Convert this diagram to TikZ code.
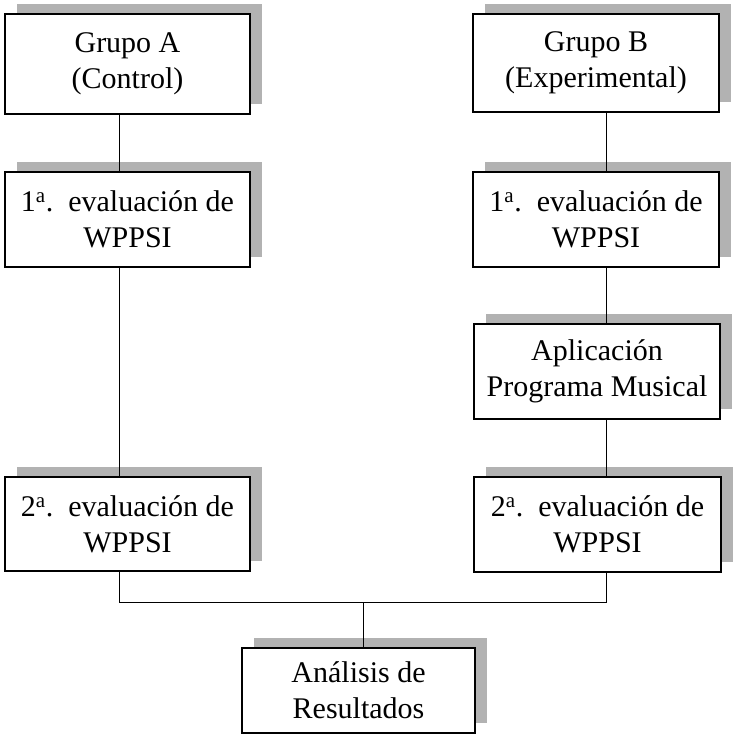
\documentclass[tikz,border=0pt]{standalone}
\usepackage{fontspec}
\setmainfont{Liberation Serif}
\usetikzlibrary{shadows}
\begin{document}
\begin{tikzpicture}[x=1pt,y=-1pt,
  box/.style={draw=black, line width=1.1pt, fill=white, rectangle, inner sep=0pt,
    align=center, font=\fontsize{30}{36}\selectfont,
    drop shadow={shadow xshift=12pt, shadow yshift=10pt, fill=gray!60, opacity=1}},
  conn/.style={draw=black, line width=1pt}]
\useasboundingbox (0,0) rectangle (736,743);
\node[box, minimum width=245pt, minimum height=100pt] (A1) at (127.5,64) {Grupo A\\(Control)};
\node[box, minimum width=245pt, minimum height=95pt] (A2) at (127.5,219.5) {1\textsuperscript{a}.\ \ evaluación de\\WPPSI};
\node[box, minimum width=245pt, minimum height=94pt] (A3) at (127.5,524) {2\textsuperscript{a}.\ \ evaluación de\\WPPSI};
\node[box, minimum width=246pt, minimum height=98pt] (B1) at (596,63) {Grupo B\\(Experimental)};
\node[box, minimum width=246pt, minimum height=95pt] (B2) at (596,219.5) {1\textsuperscript{a}.\ \ evaluación de\\WPPSI};
\node[box, minimum width=246pt, minimum height=95pt] (B3) at (597,371.5) {Aplicación\\Programa Musical};
\node[box, minimum width=247pt, minimum height=95pt] (B4) at (597.5,524.5) {2\textsuperscript{a}.\ \ evaluación de\\WPPSI};
\node[box, minimum width=233pt, minimum height=85pt] (R) at (358.5,690.5) {Análisis de\\Resultados};
\coordinate (xa) at (119,0);
\coordinate (xb) at (606,0);
\coordinate (xr) at (363,0);
\coordinate (ja) at (119,602);
\coordinate (jb) at (606,602);
\coordinate (jr) at (363,602);
\draw[conn] (A1.south -| xa) -- (A2.north -| xa);
\draw[conn] (A2.south -| xa) -- (A3.north -| xa);
\draw[conn] (A3.south -| xa) -- (ja) -- (jb) -- (B4.south -| xb);
\draw[conn] (B1.south -| xb) -- (B2.north -| xb);
\draw[conn] (B2.south -| xb) -- (B3.north -| xb);
\draw[conn] (B3.south -| xb) -- (B4.north -| xb);
\draw[conn] (jr) -- (R.north -| xr);
\end{tikzpicture}
\end{document}
